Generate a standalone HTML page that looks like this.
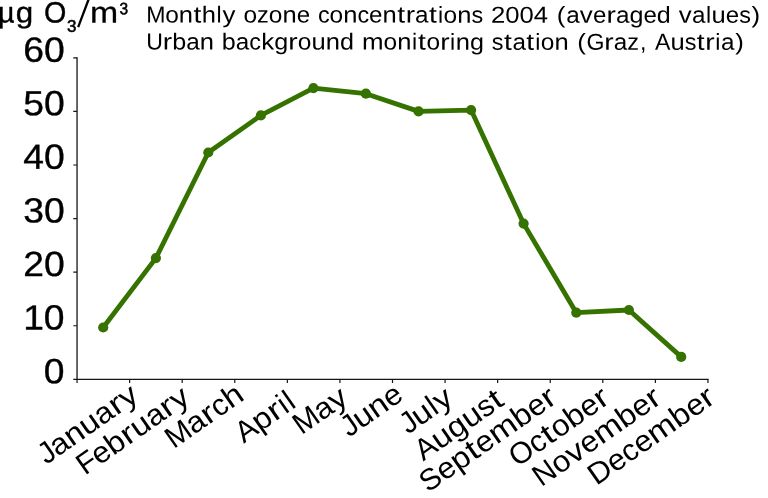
<!DOCTYPE html>
<html><head><meta charset="utf-8"><title>Monthly ozone concentrations 2004</title>
<style>html,body{margin:0;padding:0;background:#fff;overflow:hidden}svg{display:block;will-change:transform}text{text-rendering:geometricPrecision;font-family:"Liberation Sans",sans-serif;fill:#000;stroke:#000;stroke-linejoin:round;font-kerning:none;white-space:pre}</style></head><body>
<svg width="768" height="498" viewBox="0 0 768 498">
<rect width="768" height="498" fill="#fff"/>
<path d="M77.05,57.25 V379.35 H708.5500000000001" fill="none" stroke="#161616" stroke-width="1.3"/>
<path d="M73.25,379.35H77.05M73.25,325.77H77.05M73.25,272.18H77.05M73.25,218.60H77.05M73.25,165.02H77.05M73.25,111.43H77.05M73.25,57.85H77.05M77.05,379.35V383.05M129.62,379.35V383.05M182.20,379.35V383.05M234.78,379.35V383.05M287.35,379.35V383.05M339.93,379.35V383.05M392.50,379.35V383.05M445.08,379.35V383.05M497.65,379.35V383.05M550.23,379.35V383.05M602.80,379.35V383.05M655.38,379.35V383.05M707.95,379.35V383.05" fill="none" stroke="#161616" stroke-width="1.2"/>
<polyline points="103.2,327.5 155.9,258.1 208.3,152.5 260.9,115.4 313.4,88.2 365.9,93.7 418.6,111.4 471.1,110.1 523.6,223.6 576.3,312.7 628.9,310.0 681.2,356.9" fill="none" stroke="#367200" stroke-width="4.8" stroke-linejoin="round" stroke-linecap="round"/>
<circle cx="103.2" cy="327.5" r="5.1" fill="#367200"/>
<circle cx="155.9" cy="258.1" r="5.1" fill="#367200"/>
<circle cx="208.3" cy="152.5" r="5.1" fill="#367200"/>
<circle cx="260.9" cy="115.4" r="5.1" fill="#367200"/>
<circle cx="313.4" cy="88.2" r="5.1" fill="#367200"/>
<circle cx="365.9" cy="93.7" r="5.1" fill="#367200"/>
<circle cx="418.6" cy="111.4" r="5.1" fill="#367200"/>
<circle cx="471.1" cy="110.1" r="5.1" fill="#367200"/>
<circle cx="523.6" cy="223.6" r="5.1" fill="#367200"/>
<circle cx="576.3" cy="312.7" r="5.1" fill="#367200"/>
<circle cx="628.9" cy="310.0" r="5.1" fill="#367200"/>
<circle cx="681.2" cy="356.9" r="5.1" fill="#367200"/>
<text transform="rotate(0.03) translate(44.03,383.15) scale(1.0643,1)" font-size="35.0" stroke-width="0.35">0</text>
<text transform="rotate(0.03) translate(23.31,329.57) scale(1.0643,1)" font-size="35.0" stroke-width="0.35">10</text>
<text transform="rotate(0.03) translate(23.31,275.98) scale(1.0643,1)" font-size="35.0" stroke-width="0.35">20</text>
<text transform="rotate(0.03) translate(23.31,222.40) scale(1.0643,1)" font-size="35.0" stroke-width="0.35">30</text>
<text transform="rotate(0.03) translate(23.31,168.82) scale(1.0643,1)" font-size="35.0" stroke-width="0.35">40</text>
<text transform="rotate(0.03) translate(23.31,115.23) scale(1.0643,1)" font-size="35.0" stroke-width="0.35">50</text>
<text transform="rotate(0.03) translate(23.31,61.65) scale(1.0643,1)" font-size="35.0" stroke-width="0.35">60</text>
<g transform="rotate(0.03) translate(146.30,22.40)" font-size="23.1" stroke-width="0.000"><text transform="translate(-0.16,0) scale(1.000,1)">M</text><text transform="translate(18.92,0) scale(1.060,1)">o</text><text transform="translate(32.54,0) scale(1.106,1)">n</text><text transform="translate(47.25,0) scale(1.220,1)">t</text><text transform="translate(55.58,0) scale(1.106,1)">h</text><text transform="translate(70.30,0) scale(1.000,1)">l</text><text transform="translate(76.11,0) scale(1.120,1)">y</text><text transform="translate(97.12,0) scale(1.060,1)">o</text><text transform="translate(110.74,0) scale(1.020,1)">z</text><text transform="translate(122.52,0) scale(1.060,1)">o</text><text transform="translate(136.14,0) scale(1.106,1)">n</text><text transform="translate(150.35,0) scale(1.041,1)">e</text><text transform="translate(171.62,0) scale(1.012,1)">c</text><text transform="translate(183.31,0) scale(1.060,1)">o</text><text transform="translate(196.93,0) scale(1.106,1)">n</text><text transform="translate(211.14,0) scale(1.012,1)">c</text><text transform="translate(222.83,0) scale(1.041,1)">e</text><text transform="translate(236.20,0) scale(1.106,1)">n</text><text transform="translate(250.91,0) scale(1.220,1)">t</text><text transform="translate(259.35,0) scale(1.220,1)">r</text><text transform="translate(268.83,0) scale(1.050,1)">a</text><text transform="translate(282.82,0) scale(1.220,1)">t</text><text transform="translate(291.67,0) scale(1.000,1)">i</text><text transform="translate(297.31,0) scale(1.060,1)">o</text><text transform="translate(310.93,0) scale(1.106,1)">n</text><text transform="translate(325.13,0) scale(1.012,1)">s</text><text transform="translate(344.72,0) scale(1.111,1)">2</text><text transform="translate(359.00,0) scale(1.111,1)">0</text><text transform="translate(373.27,0) scale(1.111,1)">0</text><text transform="translate(387.54,0) scale(1.111,1)">4</text><text transform="translate(410.50,0) scale(1.120,1)">(</text><text transform="translate(419.90,0) scale(1.050,1)">a</text><text transform="translate(433.56,0) scale(1.120,1)">v</text><text transform="translate(446.67,0) scale(1.041,1)">e</text><text transform="translate(460.14,0) scale(1.220,1)">r</text><text transform="translate(469.62,0) scale(1.050,1)">a</text><text transform="translate(483.11,0) scale(1.088,1)">g</text><text transform="translate(497.09,0) scale(1.041,1)">e</text><text transform="translate(510.47,0) scale(1.088,1)">d</text><text transform="translate(532.52,0) scale(1.120,1)">v</text><text transform="translate(545.63,0) scale(1.050,1)">a</text><text transform="translate(559.62,0) scale(1.000,1)">l</text><text transform="translate(565.26,0) scale(1.106,1)">u</text><text transform="translate(579.47,0) scale(1.041,1)">e</text><text transform="translate(592.84,0) scale(1.012,1)">s</text><text transform="translate(605.32,0) scale(1.120,1)">)</text></g>
<g transform="rotate(0.03) translate(146.30,49.40)" font-size="23.1" stroke-width="0.000"><text transform="translate(-0.13,0) scale(1.000,1)">U</text><text transform="translate(16.52,0) scale(1.220,1)">r</text><text transform="translate(26.01,0) scale(1.088,1)">b</text><text transform="translate(39.99,0) scale(1.050,1)">a</text><text transform="translate(53.47,0) scale(1.106,1)">n</text><text transform="translate(75.58,0) scale(1.088,1)">b</text><text transform="translate(89.56,0) scale(1.050,1)">a</text><text transform="translate(103.04,0) scale(1.012,1)">c</text><text transform="translate(114.91,0) scale(1.120,1)">k</text><text transform="translate(128.02,0) scale(1.088,1)">g</text><text transform="translate(142.10,0) scale(1.220,1)">r</text><text transform="translate(151.58,0) scale(1.060,1)">o</text><text transform="translate(165.20,0) scale(1.106,1)">u</text><text transform="translate(179.41,0) scale(1.106,1)">n</text><text transform="translate(193.61,0) scale(1.088,1)">d</text><text transform="translate(215.63,0) scale(1.120,1)">m</text><text transform="translate(237.33,0) scale(1.060,1)">o</text><text transform="translate(250.95,0) scale(1.106,1)">n</text><text transform="translate(265.66,0) scale(1.000,1)">i</text><text transform="translate(271.81,0) scale(1.220,1)">t</text><text transform="translate(280.14,0) scale(1.060,1)">o</text><text transform="translate(293.86,0) scale(1.220,1)">r</text><text transform="translate(303.85,0) scale(1.000,1)">i</text><text transform="translate(309.49,0) scale(1.106,1)">n</text><text transform="translate(323.70,0) scale(1.088,1)">g</text><text transform="translate(345.58,0) scale(1.012,1)">s</text><text transform="translate(357.77,0) scale(1.220,1)">t</text><text transform="translate(366.11,0) scale(1.050,1)">a</text><text transform="translate(380.10,0) scale(1.220,1)">t</text><text transform="translate(388.94,0) scale(1.000,1)">i</text><text transform="translate(394.58,0) scale(1.060,1)">o</text><text transform="translate(408.21,0) scale(1.106,1)">n</text><text transform="translate(431.10,0) scale(1.120,1)">(</text><text transform="translate(440.21,0) scale(1.000,1)">G</text><text transform="translate(457.99,0) scale(1.220,1)">r</text><text transform="translate(467.47,0) scale(1.050,1)">a</text><text transform="translate(480.96,0) scale(1.020,1)">z</text><text transform="translate(493.61,0) scale(1.000,1)">,</text><text transform="translate(508.78,0) scale(1.000,1)">A</text><text transform="translate(524.15,0) scale(1.106,1)">u</text><text transform="translate(538.36,0) scale(1.012,1)">s</text><text transform="translate(550.55,0) scale(1.220,1)">t</text><text transform="translate(558.99,0) scale(1.220,1)">r</text><text transform="translate(568.98,0) scale(1.000,1)">i</text><text transform="translate(574.62,0) scale(1.050,1)">a</text><text transform="translate(588.89,0) scale(1.120,1)">)</text></g>
<text transform="rotate(0.03) translate(-1.95,22.40) scale(0.9771,1)" font-size="29.3" stroke-width="0.400">µ</text>
<text transform="rotate(0.03) translate(15.80,22.40) scale(1.0682,1)" font-size="29.3" stroke-width="0.400">g</text>
<text transform="rotate(0.03) translate(43.95,22.40) scale(0.9794,1)" font-size="29.3" stroke-width="0.400">O</text>
<text transform="rotate(0.03) translate(67.03,31.70) scale(1.0039,1)" font-size="16.9" stroke-width="0.550">3</text>
<path d="M78.2,27.2 L88.6,-0.6" stroke="#000" stroke-width="2.3" fill="none"/>
<text transform="rotate(0.03) translate(90.12,22.40) scale(1.1531,1)" font-size="29.3" stroke-width="0.300">m</text>
<text transform="rotate(0.03) translate(119.49,14.20) scale(0.9331,1)" font-size="16.6" stroke-width="0.550">3</text>
<g transform="translate(140.50,399.00) rotate(-35) translate(-114.12,0.00)" font-size="30.0" stroke-width="0.000"><text transform="translate(-0.91,0) scale(1.000,1)">J</text><text transform="translate(13.17,0) scale(1.043,1)">a</text><text transform="translate(30.57,0) scale(1.098,1)">n</text><text transform="translate(48.90,0) scale(1.098,1)">u</text><text transform="translate(67.22,0) scale(1.043,1)">a</text><text transform="translate(84.71,0) scale(1.220,1)">r</text><text transform="translate(97.15,0) scale(1.120,1)">y</text></g>
<g transform="translate(191.70,401.10) rotate(-35) translate(-129.52,0.00)" font-size="30.0" stroke-width="0.000"><text transform="translate(-0.84,0) scale(1.000,1)">F</text><text transform="translate(16.65,0) scale(1.034,1)">e</text><text transform="translate(33.90,0) scale(1.081,1)">b</text><text transform="translate(52.02,0) scale(1.220,1)">r</text><text transform="translate(64.30,0) scale(1.098,1)">u</text><text transform="translate(82.62,0) scale(1.043,1)">a</text><text transform="translate(100.11,0) scale(1.220,1)">r</text><text transform="translate(112.55,0) scale(1.120,1)">y</text></g>
<g transform="translate(245.80,398.80) rotate(-35) translate(-87.57,0.00)" font-size="30.0" stroke-width="0.000"><text transform="translate(-0.29,0) scale(1.000,1)">M</text><text transform="translate(24.40,0) scale(1.043,1)">a</text><text transform="translate(41.89,0) scale(1.220,1)">r</text><text transform="translate(54.17,0) scale(1.006,1)">c</text><text transform="translate(69.25,0) scale(1.098,1)">h</text></g>
<g transform="translate(298.00,405.70) rotate(-35) translate(-66.06,0.00)" font-size="30.0" stroke-width="0.000"><text transform="translate(-0.10,0) scale(1.000,1)">A</text><text transform="translate(19.80,0) scale(1.081,1)">p</text><text transform="translate(37.92,0) scale(1.220,1)">r</text><text transform="translate(50.83,0) scale(1.000,1)">i</text><text transform="translate(58.77,0) scale(1.000,1)">l</text></g>
<g transform="translate(350.00,401.40) rotate(-35) translate(-58.94,0.00)" font-size="30.0" stroke-width="0.000"><text transform="translate(-0.29,0) scale(1.000,1)">M</text><text transform="translate(24.40,0) scale(1.043,1)">a</text><text transform="translate(41.97,0) scale(1.120,1)">y</text></g>
<g transform="translate(404.80,398.70) rotate(-35) translate(-67.08,0.00)" font-size="30.0" stroke-width="0.000"><text transform="translate(-0.91,0) scale(1.000,1)">J</text><text transform="translate(13.17,0) scale(1.098,1)">u</text><text transform="translate(31.50,0) scale(1.098,1)">n</text><text transform="translate(49.82,0) scale(1.034,1)">e</text></g>
<g transform="translate(455.00,401.85) rotate(-35) translate(-56.57,0.00)" font-size="30.0" stroke-width="0.000"><text transform="translate(-0.91,0) scale(1.000,1)">J</text><text transform="translate(13.17,0) scale(1.098,1)">u</text><text transform="translate(32.13,0) scale(1.000,1)">l</text><text transform="translate(39.60,0) scale(1.120,1)">y</text></g>
<g transform="translate(506.10,403.60) rotate(-35) translate(-100.98,0.00)" font-size="30.0" stroke-width="0.000"><text transform="translate(-0.10,0) scale(1.000,1)">A</text><text transform="translate(19.80,0) scale(1.098,1)">u</text><text transform="translate(38.13,0) scale(1.081,1)">g</text><text transform="translate(56.16,0) scale(1.098,1)">u</text><text transform="translate(74.49,0) scale(1.006,1)">s</text><text transform="translate(90.19,0) scale(1.220,1)">t</text></g>
<g transform="translate(558.80,401.40) rotate(-35) translate(-159.57,0.00)" font-size="30.0" stroke-width="0.000"><text transform="translate(-0.10,0) scale(1.000,1)">S</text><text transform="translate(19.80,0) scale(1.034,1)">e</text><text transform="translate(37.06,0) scale(1.081,1)">p</text><text transform="translate(55.71,0) scale(1.220,1)">t</text><text transform="translate(66.50,0) scale(1.034,1)">e</text><text transform="translate(83.84,0) scale(1.120,1)">m</text><text transform="translate(111.92,0) scale(1.081,1)">b</text><text transform="translate(129.96,0) scale(1.034,1)">e</text><text transform="translate(147.30,0) scale(1.220,1)">r</text></g>
<g transform="translate(611.60,401.65) rotate(-35) translate(-114.50,0.00)" font-size="30.0" stroke-width="0.000"><text transform="translate(-0.28,0) scale(1.000,1)">O</text><text transform="translate(22.78,0) scale(1.006,1)">c</text><text transform="translate(38.49,0) scale(1.220,1)">t</text><text transform="translate(49.27,0) scale(1.053,1)">o</text><text transform="translate(66.85,0) scale(1.081,1)">b</text><text transform="translate(84.88,0) scale(1.034,1)">e</text><text transform="translate(102.22,0) scale(1.220,1)">r</text></g>
<g transform="translate(663.60,401.65) rotate(-35) translate(-149.44,0.00)" font-size="30.0" stroke-width="0.000"><text transform="translate(-0.01,0) scale(1.000,1)">N</text><text transform="translate(21.65,0) scale(1.053,1)">o</text><text transform="translate(39.40,0) scale(1.120,1)">v</text><text transform="translate(56.37,0) scale(1.034,1)">e</text><text transform="translate(73.71,0) scale(1.120,1)">m</text><text transform="translate(101.79,0) scale(1.081,1)">b</text><text transform="translate(119.82,0) scale(1.034,1)">e</text><text transform="translate(137.17,0) scale(1.220,1)">r</text></g>
<g transform="translate(717.40,401.20) rotate(-35) translate(-147.73,0.00)" font-size="30.0" stroke-width="0.000"><text transform="translate(0.00,0) scale(1.030,1)">D</text><text transform="translate(22.32,0) scale(1.034,1)">e</text><text transform="translate(39.57,0) scale(1.006,1)">c</text><text transform="translate(54.66,0) scale(1.034,1)">e</text><text transform="translate(72.00,0) scale(1.120,1)">m</text><text transform="translate(100.08,0) scale(1.081,1)">b</text><text transform="translate(118.12,0) scale(1.034,1)">e</text><text transform="translate(135.46,0) scale(1.220,1)">r</text></g>
</svg></body></html>
